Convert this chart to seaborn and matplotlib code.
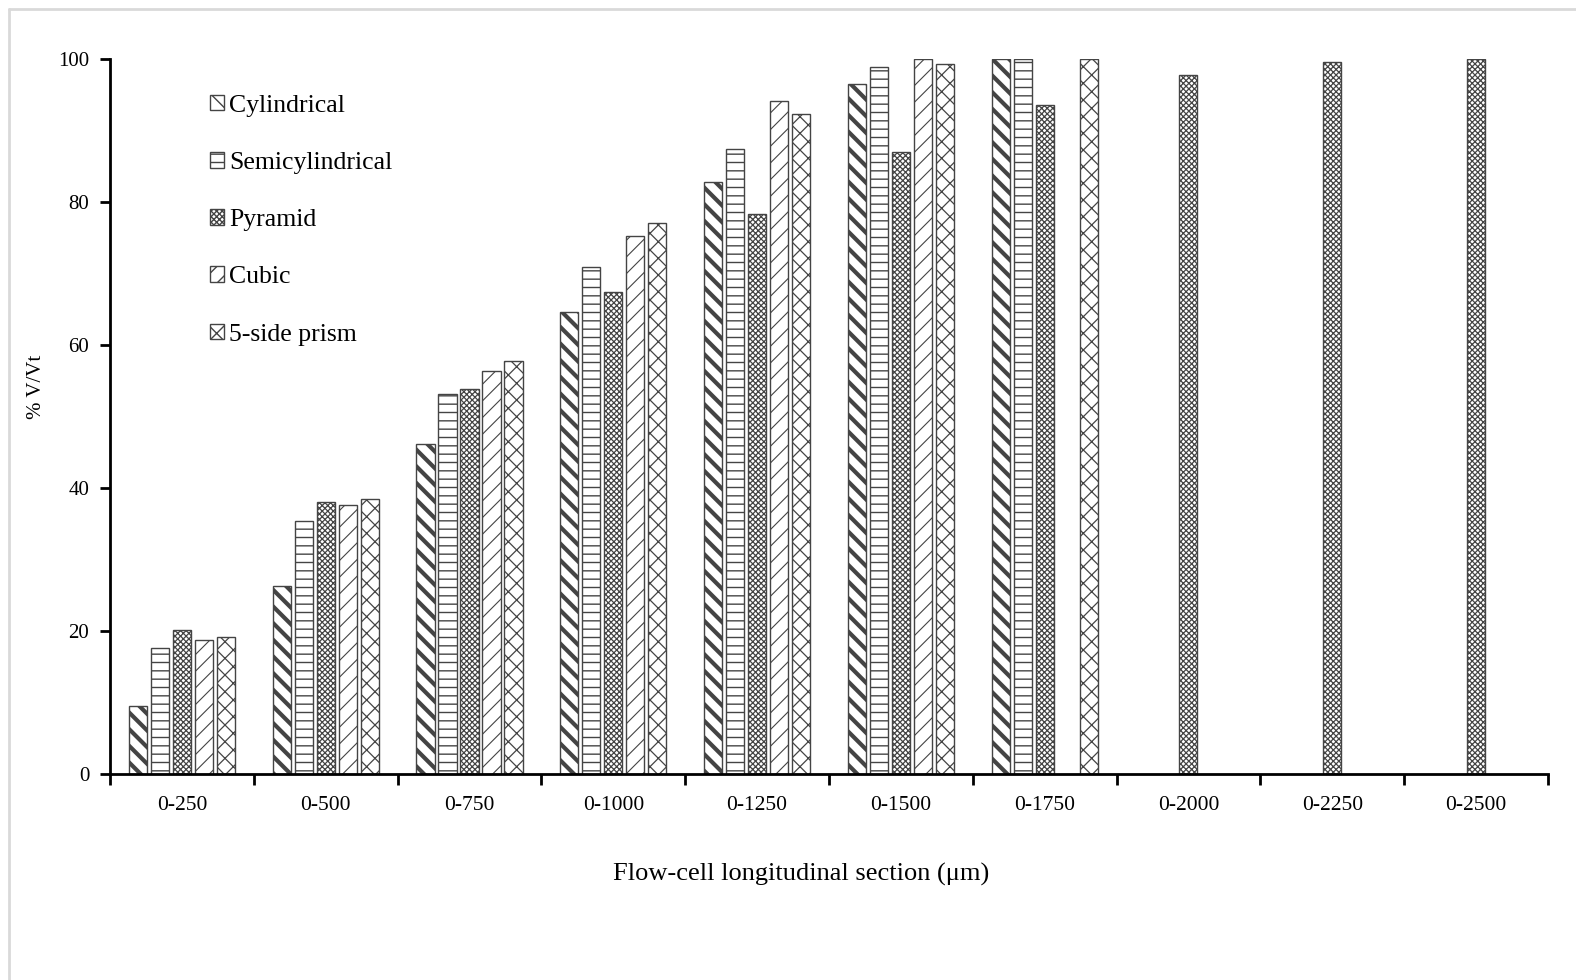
import matplotlib
matplotlib.use("Agg")
import matplotlib.pyplot as plt
import seaborn as sns
import numpy as np
import pandas as pd
from matplotlib.lines import Line2D
from matplotlib.patches import Patch
from matplotlib.ticker import FixedLocator

# data
sections = ['0-250', '0-500', '0-750', '0-1000', '0-1250',
            '0-1500', '0-1750', '0-2000', '0-2250', '0-2500']
shapes = ['Cylindrical', 'Semicylindrical', 'Pyramid', 'Cubic', '5-side prism']

cylindrical = [9.5, 26.3, 46.2, 64.6, 82.8, 96.5, 100.0, None, None, None]
semicylindrical = [17.6, 35.4, 53.1, 70.9, 87.4, 98.9, 100.0, None, None, None]
pyramid = [20.1, 38.0, 53.8, 67.4, 78.3, 87.0, 93.6, 97.8, 99.6, 100.0]
cubic = [18.7, 37.6, 56.4, 75.2, 94.1, 100.0, None, None, None, None]
prism = [19.2, 38.5, 57.8, 77.1, 92.3, 99.3, 100.0, None, None, None]

hatches = ['\\\\', '--', 'xxxxxx', '//', 'xx']
hatch_lw = [3.0, 1.0, 0.9, 0.8, 0.9]

rows = []
for shape, vals in zip(shapes, [cylindrical, semicylindrical, pyramid, cubic, prism]):
    for sec, v in zip(sections, vals):
        rows.append({'section': sec, 'shape': shape, 'value': v})
df = pd.DataFrame(rows)

sns.set_style('white')
plt.rcParams['font.family'] = ['Liberation Serif', 'DejaVu Serif']
plt.rcParams['text.color'] = 'black'
plt.rcParams['axes.labelcolor'] = 'black'
plt.rcParams['xtick.color'] = 'black'
plt.rcParams['ytick.color'] = 'black'
plt.rcParams['hatch.linewidth'] = 1.0
plt.rcParams['hatch.color'] = 'black'

fig = plt.figure(figsize=(15.76, 9.8), dpi=100)
ax = fig.add_axes([0.0698, 0.2102, 0.9124, 0.7296])

sns.barplot(
    data=df, x='section', y='value', hue='shape',
    order=sections, hue_order=shapes,
    width=0.765, gap=0.18,
    palette=['white'] * 5,
    edgecolor='#444444', linewidth=1.0,
    errorbar=None, ax=ax, legend=False
)

for i, cont in enumerate(ax.containers):
    for bar in cont:
        bar.set_hatch(hatches[i])
        if hasattr(bar, 'set_hatch_linewidth'):
            bar.set_hatch_linewidth(hatch_lw[i])

ax.set_ylim(0, 100)
ax.set_xlim(-0.5, len(sections) - 0.5)
ax.set_yticks([0, 20, 40, 60, 80, 100])

# group separators as ticks on x axis
ax.xaxis.set_minor_locator(FixedLocator(np.arange(-0.5, len(sections), 1.0)))
ax.tick_params(axis='x', which='major', bottom=False, length=0, pad=16, labelsize=15.5)
ax.tick_params(axis='x', which='minor', bottom=True, length=8, width=2,
               direction='out', color='black')
ax.tick_params(axis='y', which='major', left=True, length=7, width=2,
               direction='out', color='black', labelsize=15, pad=8)

for side in ['top', 'right']:
    ax.spines[side].set_visible(False)
for side in ['left', 'bottom']:
    ax.spines[side].set_color('black')
    ax.spines[side].set_linewidth(2)

ax.set_xlabel('Flow-cell longitudinal section (μm)', fontsize=19, labelpad=34)
ax.xaxis.label.set_x(0.4805)
ax.set_ylabel('% V/Vt', fontsize=15, labelpad=9)
ax.yaxis.label.set_y(0.541)

# legend
handles = []
for h, lw in zip(hatches, hatch_lw):
    p = Patch(facecolor='white', edgecolor='#444444', hatch=h, linewidth=1.0)
    if hasattr(p, 'set_hatch_linewidth'):
        p.set_hatch_linewidth(lw)
    handles.append(p)
ax.legend(handles, shapes, loc='upper left', bbox_to_anchor=(0.0605, 0.968),
          frameon=False, fontsize=18.5, handlelength=0.55, handleheight=0.55,
          handletextpad=0.2, labelspacing=1.37, borderpad=0)

# light gray frame of the chart area
fig.add_artist(Line2D([9 / 1576, 9 / 1576], [0, 1 - 9 / 980], color='#d9d9d9',
                      linewidth=2, transform=fig.transFigure))
fig.add_artist(Line2D([9 / 1576, 1], [1 - 9 / 980, 1 - 9 / 980], color='#d9d9d9',
                      linewidth=2, transform=fig.transFigure))

fig.savefig('out.png', dpi=100, facecolor='white')
